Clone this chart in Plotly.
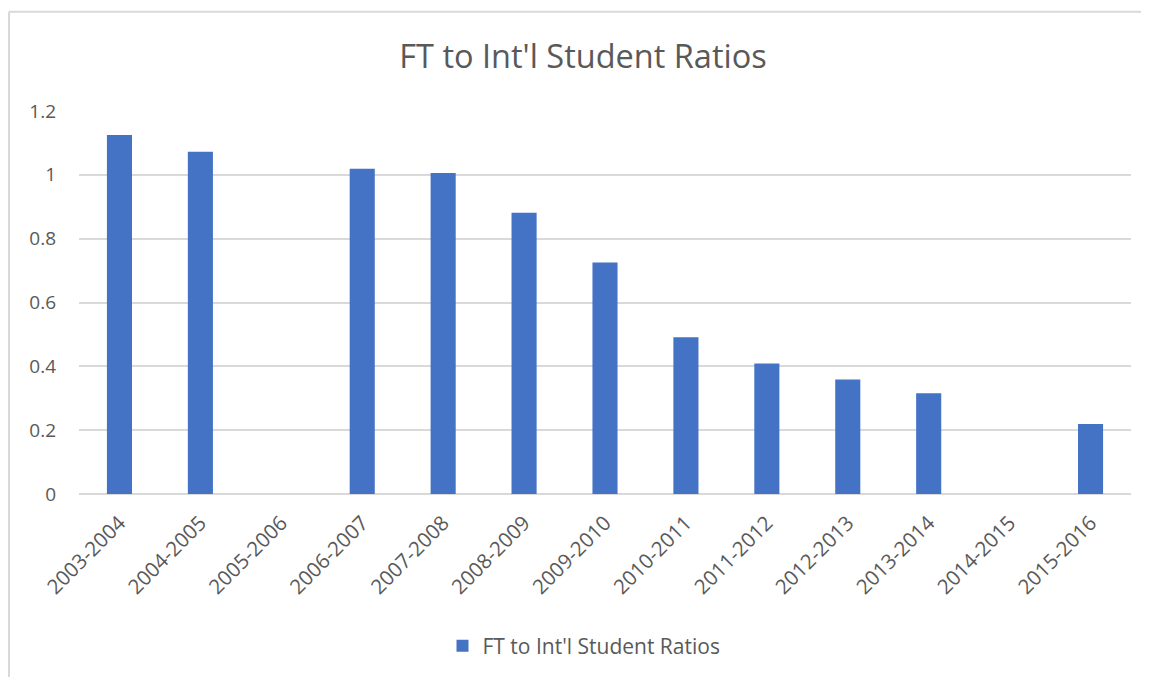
import plotly.graph_objects as go

YEARS = [
    "2003-2004", "2004-2005", "2005-2006", "2006-2007", "2007-2008",
    "2008-2009", "2009-2010", "2010-2011", "2011-2012", "2012-2013",
    "2013-2014", "2014-2015", "2015-2016",
]
RATIOS = [1.125, 1.072, None, 1.019, 1.006, 0.881, 0.725, 0.491, 0.409,
          0.359, 0.316, None, 0.219]
SERIES_NAME = "FT to Int'l Student Ratios"

BAR_COLOR = "#4472C4"
TEXT_COLOR = "#595959"
GRID_COLOR = "#D9D9D9"
FONT = "Open Sans"

# the page body has an 8px margin, so the figure is drawn 8px in and down
OFF = 8
W, H = 1149 - OFF, 677 - OFF
M_L, M_R, M_T, M_B = 79 - OFF, 18, 111 - OFF, 182
PW, PH = W - M_L - M_R, H - M_T - M_B

fig = go.Figure()
fig.add_trace(
    go.Bar(
        x=YEARS,
        y=RATIOS,
        name=SERIES_NAME,
        marker=dict(color=BAR_COLOR, line=dict(width=0)),
        showlegend=True,
    )
)

# chart-area border (partly cut off on the right/bottom like the screenshot)
bx = (9 - 79) / PW
by = 1 + (111 - 11.5) / PH
fig.add_shape(type="line", xref="paper", yref="paper",
              x0=bx, x1=bx, y0=by, y1=-M_B / PH - 0.05,
              line=dict(color=GRID_COLOR, width=2))
fig.add_shape(type="line", xref="paper", yref="paper",
              x0=bx, x1=1 + M_R / PW + 0.05, y0=by, y1=by,
              line=dict(color=GRID_COLOR, width=2))

fig.update_layout(
    width=W,
    height=H,
    margin=dict(l=M_L, r=M_R, t=M_T, b=M_B),
    plot_bgcolor="white",
    paper_bgcolor="white",
    font=dict(family=FONT, color=TEXT_COLOR, size=19),
    bargap=0.69,
    title=dict(
        text=SERIES_NAME,
        x=(583 - OFF) / W,
        xanchor="center",
        y=1 - (57 - OFF) / H,
        yanchor="middle",
        font=dict(family=FONT, size=32.5, color=TEXT_COLOR),
    ),
    yaxis=dict(
        range=[0, 1.2],
        dtick=0.2,
        showgrid=True,
        gridcolor=GRID_COLOR,
        gridwidth=1.5,
        zeroline=True,
        zerolinecolor=GRID_COLOR,
        zerolinewidth=1.5,
        showline=False,
        ticks="",
        ticklabelstandoff=22,
        tickfont=dict(size=19, color=TEXT_COLOR),
    ),
    xaxis=dict(
        showgrid=False,
        showline=False,
        ticks="",
        tickangle=-45,
        ticklabelstandoff=12,
        tickfont=dict(size=20.5, color=TEXT_COLOR),
    ),
    legend=dict(
        orientation="h",
        x=(584 - 79) / (1131 - 79),
        xanchor="center",
        y=-(646 - 495) / PH,
        yanchor="middle",
        itemwidth=30,
        font=dict(size=21, color=TEXT_COLOR),
    ),
)

fig.write_html("out.html")
